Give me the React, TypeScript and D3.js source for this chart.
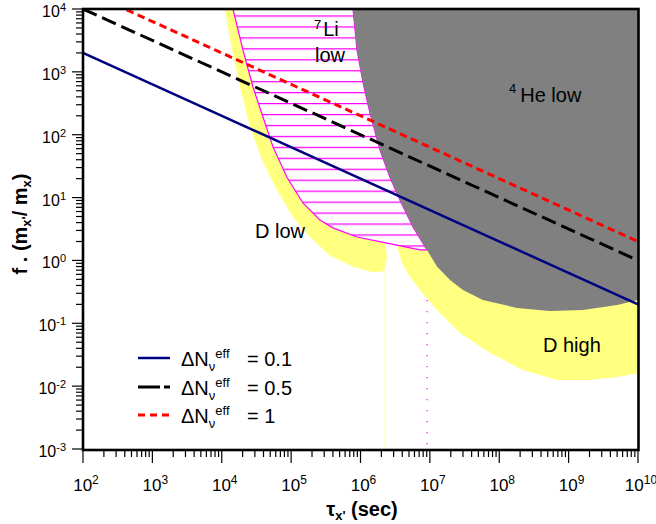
import React from "react";
import * as d3 from "d3";

const W = 656;
const H = 524;

// axis decades (exponents)
const tauExponents = [2, 3, 4, 5, 6, 7, 8, 9, 10];
const fExponents = [-3, -2, -1, 0, 1, 2, 3, 4];

// ΔNν^eff lines: values at the two ends τ = 1e2 and τ = 1e10
const lineTau = [1e2, 1e10];
const blueF = [2.0e3, 0.2];
const blackF = [1.0e4, 1.0];
const redF = [2.0e4, 2.0];
const legendValues = ["0.1", "0.5", "1"];

// 4He low (gray) boundary, top -> bottom-right  [tau, f]
const heLowEdge: [number, number][] = [
  [7.8e5, 1e4], [8.9e5, 2.23e3], [1.09e6, 665], [1.37e6, 221], [1.91e6, 57],
  [2.66e6, 21], [3.71e6, 9.1], [5.71e6, 3.4], [9.1e6, 1.47], [1.27e7, 0.79],
  [1.95e7, 0.49], [3.0e7, 0.34], [5.8e7, 0.235], [1.8e8, 0.175], [5.4e8, 0.157],
  [1.6e9, 0.163], [5.0e9, 0.196], [1e10, 0.235],
];
const heLowOuter: [number, number][] = [[1.3e10, 0.235], [1.3e10, 2e4], [7.8e5, 2e4]];

// 7Li low (hatched) left/bottom boundary, top -> joins gray edge
const liLowEdge: [number, number][] = [
  [1.45e4, 1e4], [2.02e4, 2.23e3], [2.82e4, 574], [3.93e4, 191], [5.48e4, 64],
  [8.7e4, 21], [1.48e5, 8.2], [2.6e5, 4.4], [4.0e5, 3.3], [8.9e5, 2.36],
  [2.41e6, 1.89], [7.2e6, 1.47], [9.1e6, 1.47],
];

// D low (yellow) outer boundary, top -> notch
const dLowEdge: [number, number][] = [
  [1.11e4, 2e4], [1.11e4, 1e4], [1.41e4, 2.23e3], [1.83e4, 574], [2.55e4, 133],
  [3.8e4, 39.6], [6.25e4, 13.2], [1.06e5, 4.9], [1.87e5, 2.36], [3.6e5, 1.2],
  [7.8e5, 0.79], [1.51e6, 0.65], [2.2e6, 0.67], [2.41e6, 1.13], [2.33e6, 1.63],
];
const dLowInner: [number, number][] = [
  [2.0e6, 2.5], [1e6, 10], [3e5, 50], [1e5, 500], [5e4, 2e4],
];

// D high (yellow) lower boundary, left -> right
const dHighEdge: [number, number][] = [
  [3.47e6, 1.47], [3.97e6, 0.91], [5.17e6, 0.545], [7.2e6, 0.34], [1.27e7, 0.163],
  [2.72e7, 0.07], [7.4e7, 0.0336], [2.2e8, 0.018], [6.8e8, 0.0125], [2.0e9, 0.0125],
  [5.0e9, 0.014], [1e10, 0.016],
];
const dHighInner: [number, number][] = [
  [1.3e10, 0.016], [1.3e10, 0.5], [1e8, 0.5], [1.5e7, 2], [3.47e6, 2.0],
];

// thin vertical cut lines
const dCutTau = 2.25e6;
const dCutF = [0.7, 1e-3];
const liCutTau = 9.1e6;
const liCutF = [0.235, 1e-3];

const FONT = "'Liberation Sans', Arial, Helvetica, sans-serif";

export default function App() {
  const x = d3.scaleLog().domain([1e2, 1e10]).range([83, 638]);
  const y = d3.scaleLog().domain([1e-3, 1e4]).range([449, 9]);

  const poly = (pts: [number, number][]) =>
    (d3.line<[number, number]>().x((d) => x(d[0])).y((d) => y(d[1]))(pts) || "") + "Z";
  const seg = d3.line<[number, number]>().x((d) => x(d[0])).y((d) => y(d[1]));

  const gray = poly([...heLowEdge, ...heLowOuter]);
  const hatch = poly([...liLowEdge, ...heLowEdge.slice(0, 9).reverse()]);
  const dLow = poly([...dLowEdge, ...dLowInner]);
  const dHigh = poly([...dHighEdge, ...dHighInner]);

  const mk = (fs: number[]) => seg(lineTau.map((t, i) => [t, fs[i]] as [number, number])) || "";

  const minorX: number[] = [];
  tauExponents.slice(0, -1).forEach((e) => {
    for (let k = 2; k <= 9; k++) minorX.push(k * Math.pow(10, e));
  });
  const minorY: number[] = [];
  fExponents.slice(0, -1).forEach((e) => {
    for (let k = 2; k <= 9; k++) minorY.push(k * Math.pow(10, e));
  });

  const legendRows = [
    { color: "#000080", dash: "none", w: 2.5 },
    { color: "#000000", dash: "22 4 6 100", w: 3 },
    { color: "#ff0000", dash: "7 5", w: 3 },
  ];
  const legendBase = [366, 395, 423];

  return (
    <svg width={W} height={H} style={{ display: "block", position: "absolute", left: 0, top: 0 }} fontFamily={FONT}>
      <defs>
        <clipPath id="plot">
          <rect x={83} y={9} width={555} height={441} />
        </clipPath>
        <pattern id="hatch" patternUnits="userSpaceOnUse" x={0} y={15.4} width={20} height={10.95}>
          <line x1={0} x2={20} y1={0.6} y2={0.6} stroke="#ff00ff" strokeWidth={1.3} />
        </pattern>
      </defs>
      <rect x={0} y={0} width={W} height={H} fill="#ffffff" />
      <g clipPath="url(#plot)">
        <path d={dLow} fill="#ffff80" />
        <path d={dHigh} fill="#ffff80" />
        <path d={hatch} fill="#ffffff" />
        <path d={hatch} fill="url(#hatch)" stroke="#ff00ff" strokeWidth={1.2} />
        <path d={gray} fill="#808080" />
        <line x1={x(dCutTau)} x2={x(dCutTau)} y1={y(dCutF[0])} y2={y(dCutF[1])} stroke="#ffffb0" strokeWidth={1} />
        <line x1={x(liCutTau)} x2={x(liCutTau)} y1={y(liCutF[0])} y2={y(liCutF[1])} stroke="#ff00ff" strokeWidth={1.2} strokeDasharray="1.2 9.8" />
        <path d={mk(blueF)} fill="none" stroke="#000080" strokeWidth={2.5} />
        <path d={mk(blackF)} fill="none" stroke="#000000" strokeWidth={3} strokeDasharray="15 6" />
        <path d={mk(redF)} fill="none" stroke="#ff0000" strokeWidth={3} strokeDasharray="7.5 4.5" />
      </g>

      {/* region labels */}
      <g fontSize={20} fill="#000">
        <text x={314} y={36}><tspan dy={-7} fontSize={13}>7</tspan><tspan dx={2} dy={7}>Li</tspan></text>
        <text x={315} y={62}>low</text>
        <text x={509} y={102}><tspan dy={-9} fontSize={13}>4</tspan><tspan dx={4} dy={9}>He low</tspan></text>
        <text x={255} y={238}>D low</text>
        <text x={543} y={352}>D high</text>
      </g>

      {/* legend */}
      {legendRows.map((r, i) => {
        const b = legendBase[i];
        return (
          <g key={i}>
            <line x1={138} x2={170} y1={b - 8} y2={b - 8} stroke={r.color} strokeWidth={r.w} strokeDasharray={r.dash} />
            <text x={181} y={b} fontSize={20}>
              ΔN<tspan dy={5} fontSize={13}>ν</tspan><tspan dx={0} dy={-13} fontSize={13}>eff</tspan>
            </text>
            <text x={247} y={b} fontSize={20}>= {legendValues[i]}</text>
          </g>
        );
      })}

      {/* ticks */}
      <g stroke="#000" strokeWidth={1.2}>
        {tauExponents.map((e) => (
          <line key={"xM" + e} x1={x(Math.pow(10, e))} x2={x(Math.pow(10, e))} y1={450} y2={463} />
        ))}
        {minorX.map((v, i) => (
          <line key={"xm" + i} x1={x(v)} x2={x(v)} y1={450} y2={457} />
        ))}
        {fExponents.map((e) => (
          <line key={"yM" + e} x1={72} x2={83} y1={y(Math.pow(10, e))} y2={y(Math.pow(10, e))} />
        ))}
        {minorY.map((v, i) => (
          <line key={"ym" + i} x1={76} x2={83} y1={y(v)} y2={y(v)} />
        ))}
      </g>

      {/* frame */}
      <rect x={83} y={9} width={555.5} height={441} fill="none" stroke="#000" strokeWidth={2.6} />

      {/* tick labels */}
      {fExponents.map((e) => (
        <text key={"yl" + e} x={66} y={y(Math.pow(10, e)) + 8} fontSize={16} textAnchor="end">
          10<tspan dy={-6} fontSize={11}>{String(e)}</tspan>
        </text>
      ))}
      {tauExponents.map((e) => (
        <text key={"xl" + e} x={x(Math.pow(10, e)) + 3} y={491} fontSize={17} textAnchor="middle">
          10<tspan dy={-7} fontSize={12}>{String(e)}</tspan>
        </text>
      ))}

      {/* axis titles */}
      <text x={362} y={516} fontSize={20} fontWeight="bold" textAnchor="middle">
        τ<tspan dy={4} fontSize={13}>x'</tspan><tspan dy={-4}> (sec)</tspan>
      </text>
      <text transform="translate(27,224) rotate(-90)" fontSize={20} fontWeight="bold" textAnchor="middle">
        f . (m<tspan dy={4} fontSize={13}>x'</tspan><tspan dy={-4}>/ m</tspan><tspan dy={4} fontSize={13}>x</tspan><tspan dy={-4}>)</tspan>
      </text>
    </svg>
  );
}
